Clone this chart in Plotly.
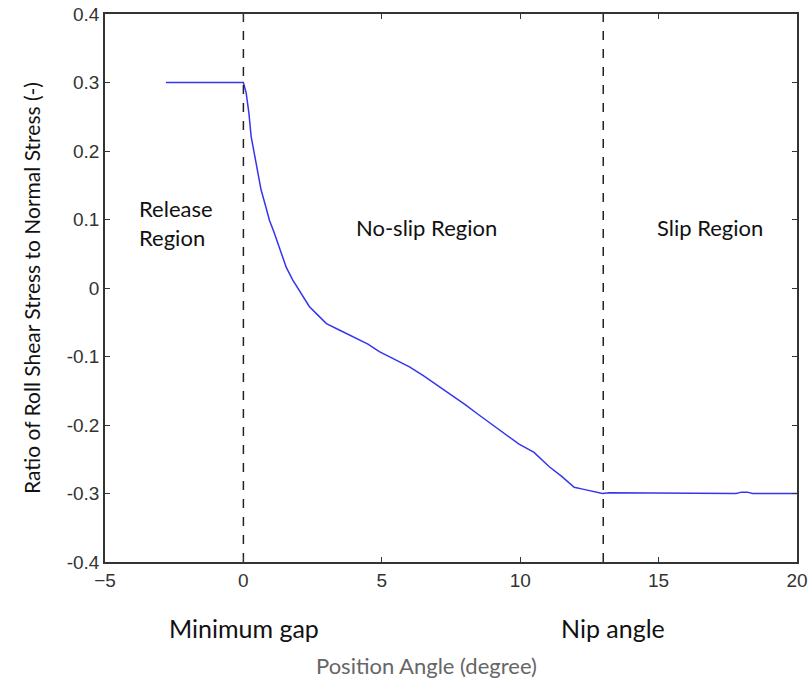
import plotly.graph_objects as go

# Position angle (degree)
angle = [-2.8, -2.5, -2.2, -2.0, -1.8, -1.5, -1.2, -1.0, -0.8, -0.7, -0.6, -0.4, -0.2, 0.0,
         0.1, 0.2, 0.28, 0.4, 0.5, 0.64, 0.8, 0.94, 1.1, 1.36, 1.55, 1.78, 2.0, 2.38, 2.7,
         3.0, 3.5, 4.0, 4.5, 4.91, 5.5, 6.0, 6.5, 7.08, 7.5, 8.0, 8.5, 9.0, 9.5, 9.96,
         10.5, 11.05, 11.5, 11.95, 12.3, 12.6, 12.97, 13.2, 13.4, 13.6, 13.8, 13.9, 14.1,
         14.3, 14.6, 15.0, 16.0, 17.0, 17.8, 18.0, 18.2, 18.4, 19.0, 20.0]
# Ratio of roll shear stress to normal stress (-)
ratio = [0.300, 0.300, 0.300, 0.299, 0.300, 0.300, 0.299, 0.300, 0.300, 0.299, 0.300, 0.300, 0.300, 0.300,
         0.285, 0.255, 0.221, 0.195, 0.170, 0.143, 0.120, 0.099, 0.082, 0.051, 0.030, 0.012, -0.002, -0.027, -0.040,
         -0.052, -0.062, -0.072, -0.082, -0.093, -0.105, -0.115, -0.128, -0.144, -0.155, -0.170, -0.185, -0.200, -0.215, -0.228,
         -0.240, -0.261, -0.275, -0.291, -0.294, -0.297, -0.300, -0.299, -0.299, -0.300, -0.299, -0.300, -0.300,
         -0.300, -0.300, -0.300, -0.300, -0.300, -0.300, -0.298, -0.298, -0.300, -0.300, -0.300]

marker_lines = [0, 13]
xticks = [-5, 0, 5, 10, 15, 20]
yticks = [0.4, 0.3, 0.2, 0.1, 0, -0.1, -0.2, -0.3, -0.4]
ytick_text = ["0.4", "0.3", "0.2", "0.1", "0", "-0.1", "-0.2", "-0.3", "-0.4"]

fig = go.Figure()
fig.add_trace(go.Scatter(x=angle, y=ratio, mode="lines",
                         line=dict(color="#3535f0", width=1.5), showlegend=False))
for xv in marker_lines:
    fig.add_trace(go.Scatter(x=[xv, xv], y=[-0.4, 0.4], mode="lines",
                             line=dict(color="#222222", width=1.5, dash="dash"), showlegend=False))

fam = "Lato, Open Sans, sans-serif"
text_font = dict(family=fam, size=22, color="#111111")
fig.add_annotation(x=-3.85, y=0.095, text="Release<br>Region", showarrow=False, xanchor="left",
                   align="left", font=text_font)
fig.add_annotation(x=6.6, y=0.088, text="No-slip Region", showarrow=False, font=text_font)
fig.add_annotation(x=16.85, y=0.088, text="Slip Region", showarrow=False, font=text_font)
fig.add_annotation(x=0.03, y=-0.121, yref="paper", yanchor="middle", text="Minimum gap", showarrow=False,
                   font=dict(family=fam, size=25, color="#111111"))
fig.add_annotation(x=13.36, y=-0.121, yref="paper", yanchor="middle", text="Nip angle", showarrow=False,
                   font=dict(family=fam, size=25, color="#111111"))
fig.add_annotation(x=0.465, xref="paper", xanchor="center", y=-0.188, yref="paper", yanchor="middle",
                   text="Position Angle (degree)",
                   showarrow=False, font=dict(family=fam, size=22, color="#666666"))

axis_common = dict(showline=True, linecolor="#333333", linewidth=1.5, mirror="ticks",
                   ticks="inside", ticklen=5, tickcolor="#333333", showgrid=False, zeroline=False,
                   automargin=False,
                   tickfont=dict(family="Liberation Sans, Arial, sans-serif", size=19, color="#333333"))
fig.update_xaxes(range=[-5, 20], tickvals=xticks, **axis_common)
fig.update_yaxes(range=[-0.4, 0.4], tickvals=yticks, ticktext=ytick_text,
                 title=dict(text="Ratio of Roll Shear Stress to Normal Stress (-)",
                            font=dict(family=fam, size=21, color="#111111"),
                            standoff=20),
                 **axis_common)

fig.update_layout(width=810, height=685, margin=dict(l=105, r=13, t=14, b=123),
                  plot_bgcolor="white", paper_bgcolor="white")
fig.write_html("out.html")
